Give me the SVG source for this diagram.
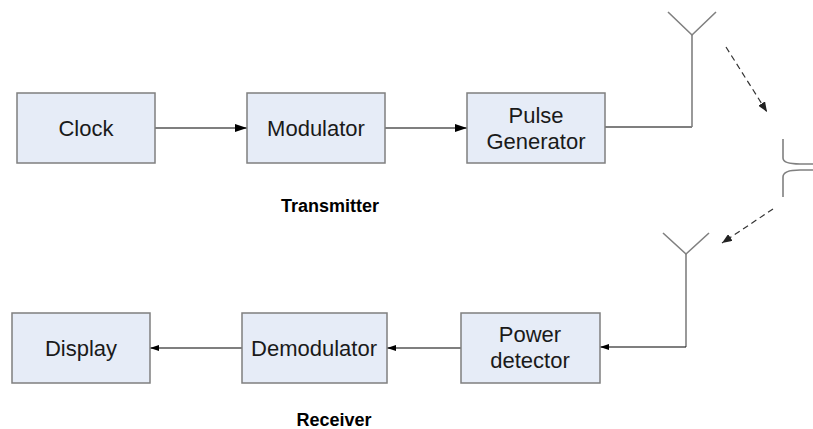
<svg xmlns="http://www.w3.org/2000/svg" width="813" height="429" viewBox="0 0 813 429">
<defs>
<style>
.box{fill:#E6ECF7;stroke:#7F7F7F;stroke-width:1.5}
.lbl{font-family:"Liberation Sans",Arial,sans-serif;font-size:22px;fill:#1a1a1a;text-anchor:middle}
.title{font-family:"Liberation Sans",Arial,sans-serif;font-size:18px;font-weight:bold;fill:#000;text-anchor:middle}
.wire{stroke:#000;stroke-width:1.2;fill:none}
.ant{stroke:#808080;stroke-width:1.6;fill:none}
.dash{stroke:#333;stroke-width:1.2;fill:none;stroke-dasharray:6 4}
</style>
<marker id="ah" markerWidth="12" markerHeight="8" refX="12" refY="4" orient="auto" markerUnits="userSpaceOnUse">
<path d="M0,0 L12,4 L0,8 Z" fill="#000"/>
</marker>
<marker id="ahs" markerWidth="9" markerHeight="6" refX="9" refY="3" orient="auto" markerUnits="userSpaceOnUse">
<path d="M0,0 L9,3 L0,6 Z" fill="#000"/>
</marker>
<marker id="ahd" markerWidth="10" markerHeight="8" refX="10" refY="4" orient="auto" markerUnits="userSpaceOnUse">
<path d="M0,0 L10,4 L0,8 Z" fill="#222"/>
</marker>
</defs>
<rect width="813" height="429" fill="#fff"/>
<g id="connectors">
<line class="wire" x1="155" y1="128" x2="247" y2="128" marker-end="url(#ah)"/>
<line class="wire" x1="385" y1="128" x2="467" y2="128" marker-end="url(#ah)"/>
<polyline class="wire" points="605,127 692,127"/>
<line class="ant" x1="692" y1="127" x2="692" y2="35"/>
<line class="wire" x1="242" y1="348" x2="150" y2="348" marker-end="url(#ahs)"/>
<line class="wire" x1="461" y1="348" x2="387" y2="348" marker-end="url(#ahs)"/>
<line class="ant" x1="686" y1="254" x2="686" y2="347"/>
<line class="wire" x1="686" y1="347" x2="600" y2="347" marker-end="url(#ahs)"/>
<line class="dash" x1="726" y1="47" x2="767" y2="112" marker-end="url(#ahd)"/>
<line class="dash" x1="773" y1="209" x2="722" y2="243" marker-end="url(#ahd)"/>
</g>
<g id="tx-antenna">
<polyline class="ant" points="668,12 692,35 716,12"/>
</g>
<g id="rx-antenna">
<polyline class="ant" points="663,233 686,254 709,233"/>
</g>
<g id="pulse">
<path class="ant" d="M783,139 L783,158 Q783,164 800,164 L813,164"/>
<path class="ant" d="M813,170 L800,170 Q783,170 783,177 L783,197"/>
</g>
<g id="clock"><rect class="box" x="17" y="93" width="138" height="70"/><text class="lbl" x="86" y="136">Clock</text></g>
<g id="modulator"><rect class="box" x="247" y="93" width="138" height="70"/><text class="lbl" x="316" y="136">Modulator</text></g>
<g id="pulse-generator"><rect class="box" x="467" y="93" width="138" height="70"/><text class="lbl" x="536" y="123">Pulse</text><text class="lbl" x="536" y="149">Generator</text></g>
<g id="display"><rect class="box" x="12" y="313" width="138" height="70"/><text class="lbl" x="81" y="356">Display</text></g>
<g id="demodulator"><rect class="box" x="242" y="313" width="145" height="70"/><text class="lbl" x="314" y="356">Demodulator</text></g>
<g id="power-detector"><rect class="box" x="461" y="313" width="139" height="70"/><text class="lbl" x="530" y="342">Power</text><text class="lbl" x="530" y="368">detector</text></g>
<g id="labels">
<text class="title" x="330" y="212">Transmitter</text>
<text class="title" x="334" y="426">Receiver</text>
</g>
</svg>
